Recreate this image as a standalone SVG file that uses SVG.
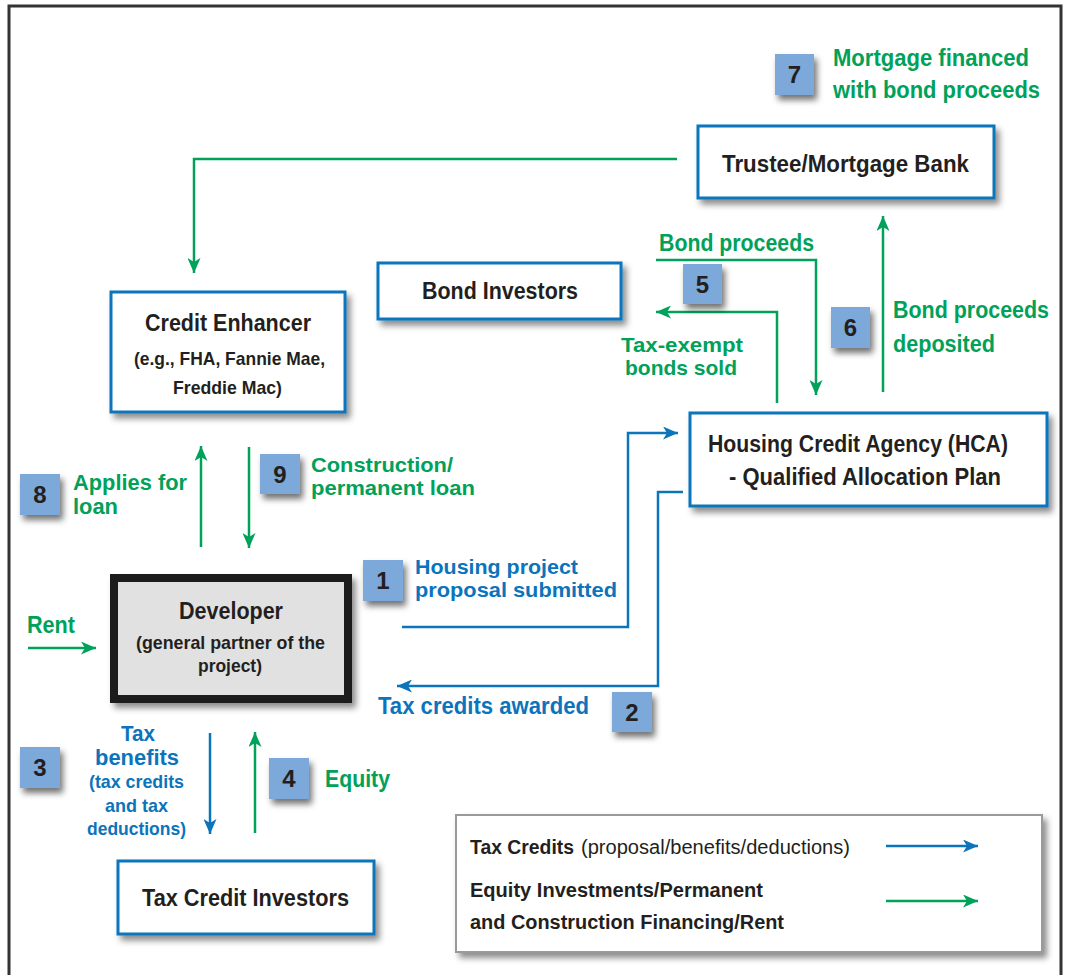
<svg xmlns="http://www.w3.org/2000/svg" width="1066" height="975" viewBox="0 0 1066 975">
<style>
text{font-family:"Liberation Sans",Arial,sans-serif;font-weight:bold}
.k{fill:#231f20}
.g{fill:#00a159}
.b{fill:#0b74bb}
.n{font-weight:normal}
.box{fill:#fff;stroke:#0b74bb;stroke-width:3}
.badge{fill:#7ba9da}
.num{fill:#231f20;font-size:24px;text-anchor:middle}
.cg{fill:none;stroke:#00a159;stroke-width:2.5}
.cb{fill:none;stroke:#0b74bb;stroke-width:2.5}
</style>
<defs>
<filter id="sh" x="-20%" y="-20%" width="150%" height="160%">
<feDropShadow dx="4" dy="5" stdDeviation="3" flood-color="#000" flood-opacity="0.45"/>
</filter>
<filter id="bsh" x="-30%" y="-30%" width="180%" height="180%">
<feDropShadow dx="3" dy="5" stdDeviation="3" flood-color="#000" flood-opacity="0.55"/>
</filter>
<marker id="ag" markerUnits="userSpaceOnUse" markerWidth="15" markerHeight="13" viewBox="0 0 15 13" refX="15" refY="6.5" orient="auto">
<path d="M0,0 L15,6.5 L0,13 L4,6.5 z" fill="#00a159"/>
</marker>
<marker id="ab" markerUnits="userSpaceOnUse" markerWidth="15" markerHeight="13" viewBox="0 0 15 13" refX="15" refY="6.5" orient="auto">
<path d="M0,0 L15,6.5 L0,13 L4,6.5 z" fill="#0b74bb"/>
</marker>
</defs>
<rect width="1066" height="975" fill="#fff"/>
<path d="M9,990 V6 H1061 V990" fill="none" stroke="#333" stroke-width="3"/>

<g id="connectors">
<path class="cg" d="M677,159 H194 V273" marker-end="url(#ag)"/>
<path class="cg" d="M656,260 H816 V395" marker-end="url(#ag)"/>
<path class="cg" d="M777,403 V312 H656" marker-end="url(#ag)"/>
<path class="cg" d="M883,392 V216" marker-end="url(#ag)"/>
<path class="cg" d="M201,547 V446" marker-end="url(#ag)"/>
<path class="cg" d="M249,447 V548" marker-end="url(#ag)"/>
<path class="cb" d="M402,627 H628 V433 H678" marker-end="url(#ab)"/>
<path class="cb" d="M683,492 H658 V686 H397" marker-end="url(#ab)"/>
<path class="cb" d="M210,733 V834" marker-end="url(#ab)"/>
<path class="cg" d="M255,833 V732" marker-end="url(#ag)"/>
<path class="cg" d="M28,648 H96" marker-end="url(#ag)"/>
</g>

<g id="trustee">
<rect class="box" x="698" y="126" width="296" height="72" filter="url(#sh)"/>
<text class="k" x="722" y="172" font-size="23" textLength="247" lengthAdjust="spacingAndGlyphs">Trustee/Mortgage Bank</text>
</g>

<g id="bond-investors">
<rect class="box" x="378" y="263" width="243" height="56" filter="url(#sh)"/>
<text class="k" x="422" y="299" font-size="23" textLength="156" lengthAdjust="spacingAndGlyphs">Bond Investors</text>
</g>

<g id="credit-enhancer">
<rect class="box" x="111" y="292" width="234" height="120" filter="url(#sh)"/>
<text class="k" x="145" y="331" font-size="23" textLength="166" lengthAdjust="spacingAndGlyphs">Credit Enhancer</text>
<text class="k" x="134" y="365" font-size="19" textLength="191" lengthAdjust="spacingAndGlyphs">(e.g., FHA, Fannie Mae,</text>
<text class="k" x="173" y="394" font-size="19" textLength="109" lengthAdjust="spacingAndGlyphs">Freddie Mac)</text>
</g>

<g id="hca">
<rect class="box" x="690" y="413" width="357" height="93" filter="url(#sh)"/>
<text class="k" x="708" y="452" font-size="23" textLength="300" lengthAdjust="spacingAndGlyphs">Housing Credit Agency (HCA)</text>
<text class="k" x="729" y="485" font-size="23" textLength="272" lengthAdjust="spacingAndGlyphs">- Qualified Allocation Plan</text>
</g>

<g id="developer">
<rect x="114" y="578" width="234" height="121" fill="#e1e1e1" stroke="#1a1a1a" stroke-width="8" filter="url(#sh)"/>
<text class="k" x="179" y="619" font-size="24" textLength="104" lengthAdjust="spacingAndGlyphs">Developer</text>
<text class="k" x="136" y="649" font-size="19" textLength="189" lengthAdjust="spacingAndGlyphs">(general partner of the</text>
<text class="k" x="198" y="672" font-size="19" textLength="64" lengthAdjust="spacingAndGlyphs">project)</text>
</g>

<g id="tax-credit-investors">
<rect class="box" x="118" y="861" width="256" height="73" filter="url(#sh)"/>
<text class="k" x="142" y="906" font-size="23" textLength="207" lengthAdjust="spacingAndGlyphs">Tax Credit Investors</text>
</g>

<g id="legend">
<rect x="456" y="815" width="586" height="137" fill="#fff" stroke="#9a9a9a" stroke-width="2" filter="url(#sh)"/>
<text class="k" x="470" y="854" font-size="20"><tspan textLength="104" lengthAdjust="spacingAndGlyphs">Tax Credits</tspan><tspan class="n" x="581" textLength="269" lengthAdjust="spacingAndGlyphs">(proposal/benefits/deductions)</tspan></text>
<text class="k" x="470" y="897" font-size="20" textLength="293" lengthAdjust="spacingAndGlyphs">Equity Investments/Permanent</text>
<text class="k" x="470" y="929" font-size="20" textLength="314" lengthAdjust="spacingAndGlyphs">and Construction Financing/Rent</text>
<path class="cb" d="M886,846 H978" marker-end="url(#ab)"/>
<path class="cg" d="M886,901 H978" marker-end="url(#ag)"/>
</g>

<g id="step7">
<rect class="badge" x="775" y="54" width="39" height="41" filter="url(#bsh)"/>
<text class="num" x="794.5" y="83">7</text>
<text class="g" x="833" y="66" font-size="23" textLength="196" lengthAdjust="spacingAndGlyphs">Mortgage financed</text>
<text class="g" x="833" y="98" font-size="23" textLength="207" lengthAdjust="spacingAndGlyphs">with bond proceeds</text>
</g>

<g id="step5">
<text class="g" x="659" y="251" font-size="23" textLength="155" lengthAdjust="spacingAndGlyphs">Bond proceeds</text>
<rect class="badge" x="683" y="264" width="39" height="40" filter="url(#bsh)"/>
<text class="num" x="702.5" y="293">5</text>
<text class="g" x="621" y="352" font-size="21" textLength="122" lengthAdjust="spacingAndGlyphs">Tax-exempt</text>
<text class="g" x="625" y="375" font-size="21" textLength="112" lengthAdjust="spacingAndGlyphs">bonds sold</text>
</g>

<g id="step6">
<rect class="badge" x="831" y="307" width="39" height="41" filter="url(#bsh)"/>
<text class="num" x="850.5" y="336">6</text>
<text class="g" x="893" y="318" font-size="23" textLength="156" lengthAdjust="spacingAndGlyphs">Bond proceeds</text>
<text class="g" x="893" y="352" font-size="23" textLength="102" lengthAdjust="spacingAndGlyphs">deposited</text>
</g>

<g id="step8">
<rect class="badge" x="20" y="474" width="40" height="41" filter="url(#bsh)"/>
<text class="num" x="40" y="503">8</text>
<text class="g" x="73" y="490" font-size="22" textLength="114" lengthAdjust="spacingAndGlyphs">Applies for</text>
<text class="g" x="73" y="514" font-size="22" textLength="45" lengthAdjust="spacingAndGlyphs">loan</text>
</g>

<g id="step9">
<rect class="badge" x="260" y="454" width="40" height="40" filter="url(#bsh)"/>
<text class="num" x="280" y="483">9</text>
<text class="g" x="311" y="472" font-size="21" textLength="142" lengthAdjust="spacingAndGlyphs">Construction/</text>
<text class="g" x="311" y="495" font-size="21" textLength="164" lengthAdjust="spacingAndGlyphs">permanent loan</text>
</g>

<g id="step1">
<rect class="badge" x="363" y="560" width="40" height="41" filter="url(#bsh)"/>
<text class="num" x="383" y="589">1</text>
<text class="b" x="415" y="574" font-size="21" textLength="163" lengthAdjust="spacingAndGlyphs">Housing project</text>
<text class="b" x="415" y="597" font-size="21" textLength="202" lengthAdjust="spacingAndGlyphs">proposal submitted</text>
</g>

<g id="step2">
<rect class="badge" x="612" y="692" width="40" height="40" filter="url(#bsh)"/>
<text class="num" x="632" y="721">2</text>
<text class="b" x="378" y="714" font-size="23" textLength="211" lengthAdjust="spacingAndGlyphs">Tax credits awarded</text>
</g>

<g id="step3">
<rect class="badge" x="20" y="747" width="40" height="41" filter="url(#bsh)"/>
<text class="num" x="40" y="776">3</text>
<text class="b" x="121" y="741" font-size="22" textLength="34" lengthAdjust="spacingAndGlyphs">Tax</text>
<text class="b" x="95" y="765" font-size="22" textLength="84" lengthAdjust="spacingAndGlyphs">benefits</text>
<text class="b" x="89" y="788" font-size="19" textLength="95" lengthAdjust="spacingAndGlyphs">(tax credits</text>
<text class="b" x="105" y="812" font-size="19" textLength="63" lengthAdjust="spacingAndGlyphs">and tax</text>
<text class="b" x="87" y="835" font-size="19" textLength="99" lengthAdjust="spacingAndGlyphs">deductions)</text>
</g>

<g id="step4">
<rect class="badge" x="269" y="758" width="40" height="41" filter="url(#bsh)"/>
<text class="num" x="289" y="787">4</text>
<text class="g" x="325" y="787" font-size="23" textLength="65" lengthAdjust="spacingAndGlyphs">Equity</text>
</g>

<g id="rent">
<text class="g" x="27" y="633" font-size="23" textLength="48" lengthAdjust="spacingAndGlyphs">Rent</text>
</g>
</svg>
